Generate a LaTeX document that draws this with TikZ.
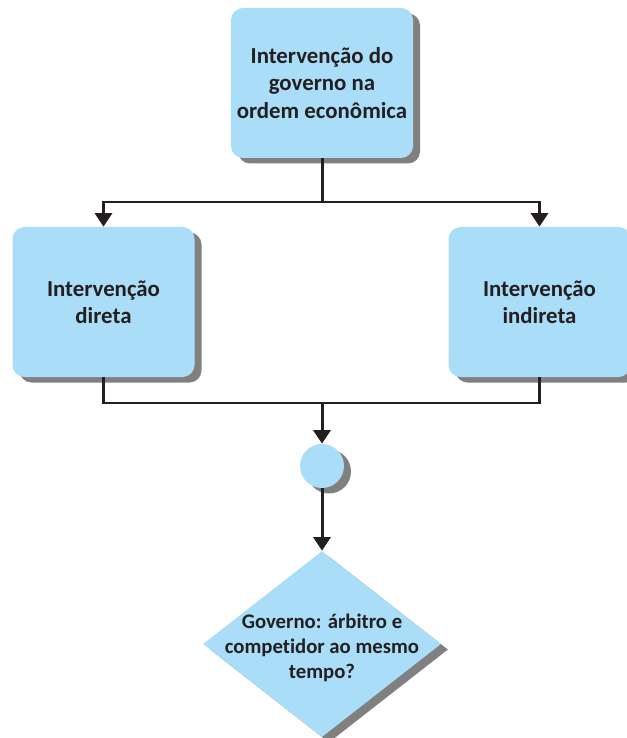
\documentclass[tikz,border=0pt]{standalone}
\usepackage{fontspec}
\setmainfont{Carlito}[Ligatures=NoCommon]
\usetikzlibrary{shapes.geometric,shadows,arrows.meta}
\definecolor{boxblue}{RGB}{170,222,248}
\definecolor{shadowgray}{RGB}{128,128,128}
\definecolor{inkdark}{RGB}{35,31,32}

\begin{document}
\begin{tikzpicture}[
    shade/.style={drop shadow={shadow xshift=0.14cm, shadow yshift=-0.11cm, fill=shadowgray, opacity=1}},
    box/.style={rectangle, rounded corners=0.24cm, fill=boxblue, shade,
        minimum width=3.64cm, minimum height=3cm, align=center,
        text=inkdark, font=\bfseries\fontsize{13}{15.5}\selectfont},
    link/.style={draw=inkdark, line width=1.7pt},
    arrow/.style={link, -{Triangle[width=0.34cm,length=0.27cm]}}
]
    \useasboundingbox (0,0) rectangle (12.54,-14.76);

    % Top of the chart
    \node[box, minimum width=3.62cm] (govt) at (6.44,-1.66) {Interven\c{c}\~ao do\\governo na\\ordem econ\^omica};

    % The two kinds of intervention
    \node[box] (direct) at (2.07,-6.04) {Interven\c{c}\~ao\\direta};
    \node[box] (indirect) at (10.79,-6.04) {Interven\c{c}\~ao\\indireta};

    \coordinate (split) at (6.44,-4.04);
    \draw[link] (govt) -- (split);
    \draw[arrow] (split) -| (direct.north);
    \draw[arrow] (split) -| (indirect.north);

    % Joining again
    \node[circle, fill=boxblue, shade, minimum size=0.88cm, inner sep=0pt] (hub) at (6.44,-9.32) {};
    \coordinate (join) at (6.44,-8.06);
    \draw[link] (direct.south) |- (join);
    \draw[link] (indirect.south) |- (join);
    \draw[arrow] (join) -- (hub.north);

    % The question
    \node[diamond, fill=boxblue, shade, minimum width=4.76cm, minimum height=3.72cm, inner sep=0pt,
        label={[align=center, text=inkdark, yshift=-0.07cm, font=\bfseries\fontsize{11.8}{14.2}\selectfont]center:Governo: \'arbitro e\\competidor ao mesmo\\tempo?}] (question) at (6.44,-12.88) {};
    \draw[arrow] (hub) -- (question.north);
\end{tikzpicture}
\end{document}
